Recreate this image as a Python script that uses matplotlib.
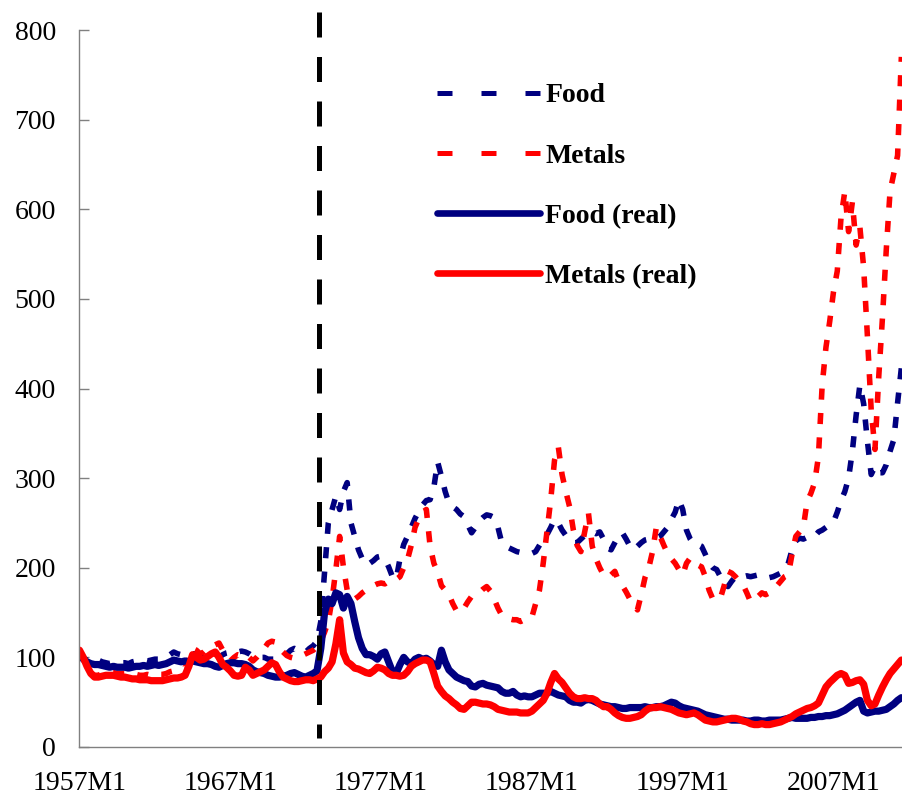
import matplotlib.pyplot as plt
import numpy as np
from matplotlib.lines import Line2D

# Quarterly readings, 1957Q1 .. 2011Q3 (four values per year)
food = [
    106, 99, 97, 96,      # 1957
    96, 97, 95, 94,       # 1958
    93, 94, 93, 94,       # 1959
    94, 93, 95, 96,       # 1960
    96, 97, 96, 97,       # 1961
    98, 98, 99, 101,      # 1962
    103, 106, 104, 103,   # 1963
    104, 103, 104, 104,   # 1964
    103, 102, 103, 102,   # 1965
    101, 100, 103, 105,   # 1966
    106, 107, 106, 107,   # 1967
    106, 104, 101, 100,   # 1968
    100, 100, 98, 98,     # 1969
    98, 100, 102, 104,    # 1970
    108, 110, 108, 106,   # 1971
    106, 110, 113, 118,   # 1972
    140, 195, 250, 265,   # 1973
    280, 265, 285, 295,   # 1974
    250, 235, 220, 210,   # 1975
    203, 205, 208, 212,   # 1976
    213, 210, 201, 190,   # 1977
    187, 210, 226, 235,   # 1978
    245, 255, 263, 270,   # 1979
    275, 276, 290, 318,   # 1980
    302, 285, 272, 268,   # 1981
    265, 260, 257, 248,   # 1982
    239, 245, 252, 256,   # 1983
    259, 258, 256, 245,   # 1984
    228, 224, 222, 220,   # 1985
    218, 217, 216, 216,   # 1986
    216, 218, 225, 232,   # 1987
    237, 245, 254, 250,   # 1988
    242, 236, 230, 228,   # 1989
    228, 232, 236, 238,   # 1990
    240, 238, 240, 232,   # 1991
    222, 220, 228, 236,   # 1992
    239, 232, 224, 220,   # 1993
    224, 228, 231, 232,   # 1994
    232, 233, 235, 240,   # 1995
    245, 254, 262, 276,   # 1996
    265, 242, 232, 226,   # 1997
    226, 224, 215, 205,   # 1998
    200, 198, 190, 182,   # 1999
    179, 185, 190, 190,   # 2000
    190, 191, 190, 191,   # 2001
    192, 190, 189, 189,   # 2002
    190, 192, 194, 196,   # 2003
    205, 220, 230, 233,   # 2004
    232, 234, 233, 235,   # 2005
    240, 242, 245, 248,   # 2006
    251, 262, 275, 285,   # 2007
    300, 330, 370, 404,   # 2008
    383, 341, 304, 313,   # 2009
    306, 306, 315, 330,   # 2010
    343, 384, 423,        # 2011
]

metals = [
    108, 100, 91, 83,     # 1957
    80, 80, 82, 83,       # 1958
    83, 83, 82, 82,       # 1959
    82, 81, 80, 81,       # 1960
    80, 80, 81, 80,       # 1961
    80, 81, 81, 82,       # 1962
    84, 85, 86, 88,       # 1963
    88, 98, 110, 108,     # 1964
    104, 106, 110, 113,   # 1965
    114, 116, 108, 100,   # 1966
    96, 100, 103, 102,    # 1967
    104, 100, 96, 100,    # 1968
    105, 110, 116, 118,   # 1969
    117, 110, 106, 102,   # 1970
    100, 99, 100, 102,    # 1971
    104, 106, 108, 112,   # 1972
    118, 128, 140, 165,   # 1973
    198, 235, 201, 175,   # 1974
    168, 165, 168, 172,   # 1975
    175, 178, 180, 182,   # 1976
    183, 182, 185, 187,   # 1977
    187, 190, 200, 209,   # 1978
    225, 245, 255, 262,   # 1979
    265, 224, 205, 195,   # 1980
    180, 175, 170, 160,   # 1981
    152, 150, 155, 162,   # 1982
    168, 170, 172, 176,   # 1983
    179, 174, 165, 155,   # 1984
    147, 145, 143, 142,   # 1985
    142, 140, 142, 145,   # 1986
    145, 160, 175, 205,   # 1987
    240, 276, 320, 335,   # 1988
    304, 285, 268, 242,   # 1989
    225, 218, 240, 261,   # 1990
    224, 210, 200, 192,   # 1991
    189, 192, 196, 185,   # 1992
    180, 173, 165, 160,   # 1993
    153, 170, 189, 200,   # 1994
    218, 245, 235, 225,   # 1995
    216, 210, 205, 198,   # 1996
    192, 205, 211, 207,   # 1997
    203, 201, 190, 175,   # 1998
    165, 164, 166, 180,   # 1999
    196, 194, 190, 185,   # 2000
    181, 172, 162, 165,   # 2001
    168, 172, 170, 172,   # 2002
    175, 180, 185, 190,   # 2003
    192, 215, 235, 240,   # 2004
    245, 274, 283, 295,   # 2005
    324, 404, 446, 475,   # 2006
    508, 531, 591, 620,   # 2007
    575, 608, 560, 580,   # 2008
    535, 458, 376, 332,   # 2009
    413, 480, 555, 620,   # 2010
    640, 660, 770,        # 2011
]

food_real = [
    105, 98, 95, 93,      # 1957
    92, 92, 91, 90,       # 1958
    89, 90, 89, 89,       # 1959
    89, 88, 89, 90,       # 1960
    90, 91, 90, 91,       # 1961
    92, 91, 92, 93,       # 1962
    95, 97, 96, 95,       # 1963
    96, 95, 96, 95,       # 1964
    94, 93, 93, 92,       # 1965
    90, 89, 91, 93,       # 1966
    94, 94, 93, 93,       # 1967
    92, 90, 86, 84,       # 1968
    83, 82, 80, 79,       # 1969
    78, 78, 79, 80,       # 1970
    82, 83, 81, 79,       # 1971
    78, 80, 82, 85,       # 1972
    110, 150, 165, 160,   # 1973
    172, 170, 155, 168,   # 1974
    160, 140, 122, 110,   # 1975
    103, 103, 101, 98,    # 1976
    104, 106, 95, 84,     # 1977
    82, 92, 100, 95,      # 1978
    93, 98, 100, 98,      # 1979
    99, 96, 92, 90,       # 1980
    108, 95, 86, 82,      # 1981
    78, 76, 74, 73,       # 1982
    68, 67, 70, 71,       # 1983
    69, 68, 67, 66,       # 1984
    62, 60, 60, 62,       # 1985
    58, 56, 57, 56,       # 1986
    56, 58, 60, 60,       # 1987
    60, 62, 60, 58,       # 1988
    57, 56, 52, 50,       # 1989
    50, 49, 52, 53,       # 1990
    52, 50, 48, 47,       # 1991
    46, 45, 45, 44,       # 1992
    43, 43, 44, 44,       # 1993
    44, 44, 45, 44,       # 1994
    44, 45, 45, 46,       # 1995
    48, 50, 49, 46,       # 1996
    44, 43, 42, 41,       # 1997
    40, 38, 36, 35,       # 1998
    34, 33, 32, 31,       # 1999
    31, 30, 30, 30,       # 2000
    30, 29, 29, 30,       # 2001
    30, 29, 29, 30,       # 2002
    30, 30, 30, 31,       # 2003
    32, 33, 32, 32,       # 2004
    32, 32, 33, 33,       # 2005
    34, 34, 35, 35,       # 2006
    36, 37, 39, 41,       # 2007
    44, 47, 50, 52,       # 2008
    40, 38, 39, 40,       # 2009
    40, 41, 42, 45,       # 2010
    48, 52, 55,           # 2011
]

metals_real = [
    108, 100, 90, 82,     # 1957
    78, 78, 79, 80,       # 1958
    80, 80, 79, 78,       # 1959
    78, 77, 76, 76,       # 1960
    75, 75, 75, 74,       # 1961
    74, 74, 74, 75,       # 1962
    76, 77, 77, 78,       # 1963
    80, 90, 103, 100,     # 1964
    97, 98, 101, 104,     # 1965
    106, 100, 92, 89,     # 1966
    85, 80, 79, 80,       # 1967
    89, 86, 80, 82,       # 1968
    84, 86, 90, 94,       # 1969
    92, 84, 78, 76,       # 1970
    74, 73, 73, 74,       # 1971
    75, 75, 74, 76,       # 1972
    78, 84, 88, 95,       # 1973
    115, 142, 105, 95,    # 1974
    92, 88, 87, 85,       # 1975
    83, 82, 85, 89,       # 1976
    88, 86, 82, 80,       # 1977
    80, 79, 80, 84,       # 1978
    90, 93, 95, 97,       # 1979
    97, 95, 82, 68,       # 1980
    62, 57, 54, 50,       # 1981
    47, 43, 42, 46,       # 1982
    50, 50, 49, 48,       # 1983
    48, 47, 45, 42,       # 1984
    41, 40, 39, 39,       # 1985
    39, 38, 38, 38,       # 1986
    40, 44, 48, 52,       # 1987
    60, 72, 82, 76,       # 1988
    72, 66, 60, 56,       # 1989
    54, 54, 55, 54,       # 1990
    54, 52, 48, 45,       # 1991
    45, 42, 38, 35,       # 1992
    33, 32, 32, 33,       # 1993
    34, 36, 40, 43,       # 1994
    44, 44, 45, 44,       # 1995
    43, 42, 40, 38,       # 1996
    37, 36, 37, 38,       # 1997
    36, 33, 30, 29,       # 1998
    28, 28, 29, 30,       # 1999
    31, 32, 32, 31,       # 2000
    29, 28, 26, 25,       # 2001
    25, 26, 25, 25,       # 2002
    26, 27, 28, 30,       # 2003
    32, 34, 37, 39,       # 2004
    41, 43, 44, 46,       # 2005
    49, 58, 67, 72,       # 2006
    76, 80, 82, 80,       # 2007
    71, 72, 74, 75,       # 2008
    70, 52, 46, 48,       # 2009
    58, 67, 75, 82,       # 2010
    87, 92, 97,           # 2011
]

tick_years = [1957, 1967, 1977, 1987, 1997, 2007]
tick_labels = ['1957M1', '1967M1', '1977M1', '1987M1', '1997M1', '2007M1']
break_date = 1972.9   # vertical dashed marker

t = 1957 + np.arange(len(food)) / 4.0

navy = '#000080'
red = '#ff0000'

plt.rcParams['font.family'] = ['Liberation Serif', 'DejaVu Serif']

fig = plt.figure(figsize=(9.03, 7.97), dpi=100)
ax = fig.add_axes([79.5 / 903, 50 / 797, 823.5 / 903, 717 / 797])

dash_lw = 4.0
real_lw = 5.2
ax.plot(t, food, color=navy, lw=dash_lw, dashes=(2.0, 2.4), dash_capstyle='butt')
ax.plot(t, metals, color=red, lw=dash_lw, dashes=(2.0, 2.4), dash_capstyle='butt')
ax.plot(t, food_real, color=navy, lw=real_lw, solid_joinstyle='round', solid_capstyle='round')
ax.plot(t, metals_real, color=red, lw=real_lw, solid_joinstyle='round', solid_capstyle='round')

# drawn top-down so the dash pattern starts at the top like the original
ax.plot([break_date, break_date], [820, 10], color='black', lw=3.6,
        dashes=(5, 3.9), clip_on=False, zorder=5)

ax.set_xlim(1957, 1957 + 823.5 / 15.08)
ax.set_ylim(0, 800)
ax.set_yticks(range(0, 801, 100))
ax.set_xticks(tick_years)
ax.set_xticklabels(tick_labels)

for s in ['top', 'right']:
    ax.spines[s].set_visible(False)
for s in ['left', 'bottom']:
    ax.spines[s].set_color('#808080')
    ax.spines[s].set_linewidth(1.0)

ax.tick_params(axis='y', direction='in', length=7, width=1.0, color='#808080',
               labelsize=20, pad=17)
ax.tick_params(axis='x', length=0, labelsize=20, pad=17)

handles = [
    Line2D([], [], color=navy, lw=3.6, dashes=(3, 5.8), dash_capstyle='butt'),
    Line2D([], [], color=red, lw=3.6, dashes=(3, 5.8), dash_capstyle='butt'),
    Line2D([], [], color=navy, lw=4.8, solid_capstyle='round'),
    Line2D([], [], color=red, lw=4.8, solid_capstyle='round'),
]
labels = ['Food', 'Metals', 'Food (real)', 'Metals (real)']
ax.legend(handles, labels, loc='upper left', bbox_to_anchor=(437 / 903, 1 - 83 / 797),
          bbox_transform=fig.transFigure, frameon=False, borderpad=0, borderaxespad=0,
          handlelength=3.7, handletextpad=0.2, labelspacing=1.25,
          prop={'family': 'Liberation Serif', 'weight': 'bold', 'size': 20})

fig.savefig('out.png', dpi=100)
